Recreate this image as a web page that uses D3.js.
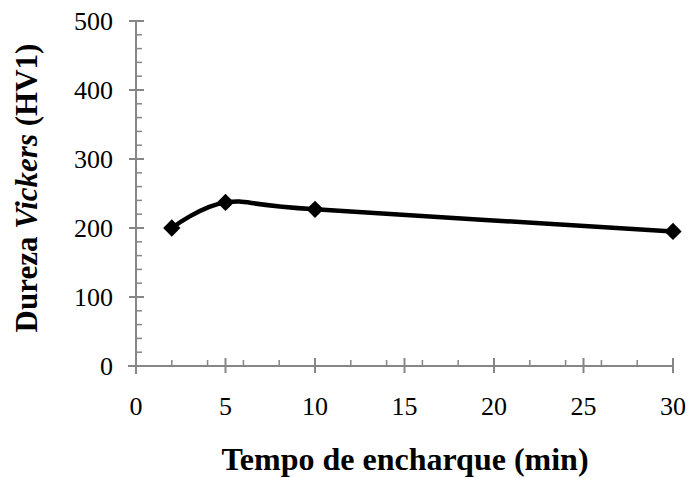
<!DOCTYPE html>
<html>
<head>
<meta charset="utf-8">
<script src="https://d3js.org/d3.v7.min.js"></script>
<style>
	body { margin: 0; background: #fff; }
</style>
</head>
<body>
<script>

// tempo de encharque (min) vs dureza Vickers (HV1)
const tempo = [2, 5, 10, 30];
const dureza = [200, 237, 227, 195];

const xTicks = [0, 5, 10, 15, 20, 25, 30];
const xMinor = [2, 4, 6, 8, 12, 14, 16, 18, 22, 24, 26, 28];
const yTicks = [0, 100, 200, 300, 400, 500];
const yMinor = d3.range(0, 501, 20).filter(v => v % 100 !== 0);

const width = 688, height = 478;
const plotLeft = 136, plotRight = 673, plotTop = 21, plotBottom = 366;
const axisColor = "#868686";
const serif = "'Liberation Serif', 'Times New Roman', Times, serif";

var svg = d3.select("body")
	.append("svg")
	.attr("width", width)
	.attr("height", height)
	.attr("font-family", serif);

var xScale = d3.scaleLinear().domain([0, 30]).range([plotLeft, plotRight]);
var yScale = d3.scaleLinear().domain([0, 500]).range([plotBottom, plotTop]);

// y axis
var yAxis = svg.append("g").attr("class", "yAxis");
yAxis.append("line")
	.attr("x1", plotLeft).attr("x2", plotLeft)
	.attr("y1", yScale(500)).attr("y2", yScale(0) + 8)
	.attr("stroke", axisColor).attr("stroke-width", 2);
yAxis.selectAll(".major")
	.data(yTicks)
	.enter()
	.append("line")
	.attr("x1", plotLeft - 7).attr("x2", plotLeft + 8)
	.attr("y1", d => yScale(d)).attr("y2", d => yScale(d))
	.attr("stroke", axisColor).attr("stroke-width", 2);
yAxis.selectAll(".minor")
	.data(yMinor)
	.enter()
	.append("line")
	.attr("x1", plotLeft).attr("x2", plotLeft + 6)
	.attr("y1", d => yScale(d)).attr("y2", d => yScale(d))
	.attr("stroke", axisColor).attr("stroke-width", 1.5);
yAxis.selectAll("text")
	.data(yTicks)
	.enter()
	.append("text")
	.attr("x", 113)
	.attr("y", d => yScale(d) + 9)
	.attr("text-anchor", "end")
	.attr("font-size", 26)
	.text(d => d);

// x axis
var xAxis = svg.append("g").attr("class", "xAxis");
xAxis.append("line")
	.attr("x1", plotLeft - 8).attr("x2", plotRight)
	.attr("y1", plotBottom).attr("y2", plotBottom)
	.attr("stroke", axisColor).attr("stroke-width", 2);
xAxis.selectAll(".major")
	.data(xTicks)
	.enter()
	.append("line")
	.attr("x1", d => xScale(d)).attr("x2", d => xScale(d))
	.attr("y1", plotBottom - 8).attr("y2", plotBottom + 7)
	.attr("stroke", axisColor).attr("stroke-width", 2);
xAxis.selectAll(".minor")
	.data(xMinor)
	.enter()
	.append("line")
	.attr("x1", d => xScale(d)).attr("x2", d => xScale(d))
	.attr("y1", plotBottom - 6).attr("y2", plotBottom)
	.attr("stroke", axisColor).attr("stroke-width", 1.5);
xAxis.selectAll("text")
	.data(xTicks)
	.enter()
	.append("text")
	.attr("x", d => xScale(d))
	.attr("y", 415)
	.attr("text-anchor", "middle")
	.attr("font-size", 26)
	.text(d => d);

// series
var points = tempo.map((t, i) => [t, dureza[i]]);

var line = d3.line()
	.x(d => xScale(d[0]))
	.y(d => yScale(d[1]))
	.curve(d3.curveCardinal.tension(0));

svg.append("path")
	.datum(points)
	.attr("d", line)
	.attr("fill", "none")
	.attr("stroke", "#000")
	.attr("stroke-width", 4.5)
	.attr("stroke-linejoin", "round");

svg.selectAll(".marker")
	.data(points)
	.enter()
	.append("path")
	.attr("class", "marker")
	.attr("d", d3.symbol().type(d3.symbolDiamond2).size(190))
	.attr("transform", d => "translate(" + xScale(d[0]) + "," + yScale(d[1]) + ")")
	.attr("fill", "#000");

// titles
svg.append("text")
	.attr("x", 405)
	.attr("y", 470)
	.attr("text-anchor", "middle")
	.attr("font-size", 32)
	.attr("font-weight", "bold")
	.text("Tempo de encharque (min)");

var yTitle = svg.append("text")
	.attr("transform", "translate(37,188) rotate(-90)")
	.attr("text-anchor", "middle")
	.attr("font-size", 31)
	.attr("font-weight", "bold");
yTitle.append("tspan").text("Dureza ");
yTitle.append("tspan").attr("font-style", "italic").text("Vickers");
yTitle.append("tspan").text(" (HV1)");

</script>
</body>
</html>
